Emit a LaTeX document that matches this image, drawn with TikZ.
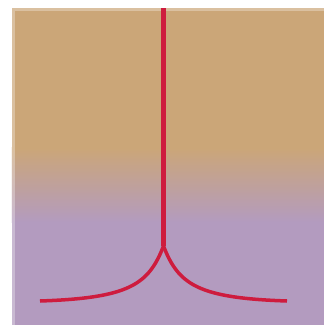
\documentclass[tikz,border=0pt]{standalone}
\definecolor{tanc}{RGB}{203,166,120}
\definecolor{purc}{RGB}{179,155,191}
\definecolor{redc}{RGB}{206,28,62}
\tikzset{rootline/.style={draw=redc, line width=4.5pt, line cap=butt, line join=round}}
\begin{document}
\begin{tikzpicture}[x=1pt,y=-1pt]
\useasboundingbox (0,0) rectangle (324,325);
\fill[white] (0,0) rectangle (324,325);
\fill[tanc] (12,8) rectangle (324,148);
\shade[top color=tanc, bottom color=purc] (12,147.5) rectangle (324,222.5);
\fill[purc] (12,222) rectangle (324,325);
\fill[white, opacity=0.3] (12,8) rectangle (324,11);
\fill[white, opacity=0.3] (12,11) rectangle (15,325);
\coordinate (top) at (163.5,8);
\coordinate (cusp) at (163.5,246);
\coordinate (L) at (40,301);
\coordinate (R) at (287,301);
\draw[rootline] (top) -- (cusp);
\draw[rootline, line width=3.5pt] (cusp) .. controls (148.5,285) and (128.5,298) .. (L);
\draw[rootline, line width=3.5pt] (cusp) .. controls (178.5,285) and (198.5,298) .. (R);
\end{tikzpicture}
\end{document}
